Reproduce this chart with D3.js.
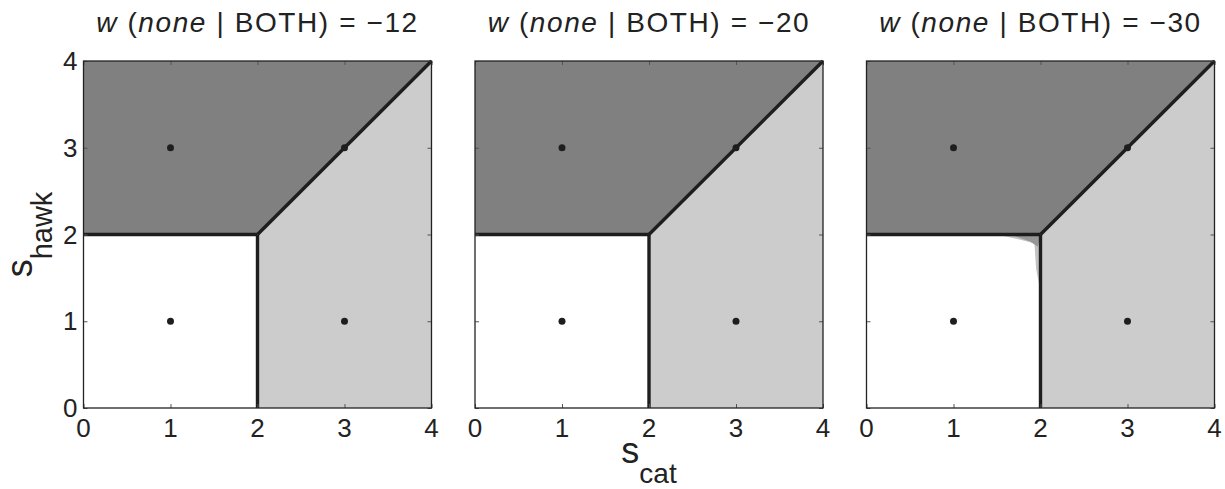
<!DOCTYPE html>
<html>
<head>
<meta charset="utf-8">
<script src="https://cdn.jsdelivr.net/npm/d3@7"></script>
<style>
  body { margin: 0; background: #fff; }
  text { font-family: "Liberation Sans", Arial, Helvetica, sans-serif; fill: #222; }
</style>
</head>
<body>
<div id="chart"></div>
<script>
// panel values (title weights)
const wValues = [-12, -20, -30];
const xTicks = [0, 1, 2, 3, 4];
const yTicks = [0, 1, 2, 3, 4];
const dotPoints = [[1, 1], [1, 3], [3, 1], [3, 3]];
// decision regions in (s_cat, s_hawk) space
const regionHawk = [[0, 2], [2, 2], [4, 4], [0, 4]];
const regionCat = [[2, 0], [4, 0], [4, 4], [2, 2]];
const boundaries = [
    [[0, 2], [2, 2]],
    [[2, 0], [2, 2]],
    [[2, 2], [4, 4]]
];
// small mixed zone near the corner, only in the last panel
const blurOuter = [null, null, [[1.5, 2], [2, 2], [2, 1.35], [1.95, 1.6], [1.93, 1.9], [1.72, 1.95]]];
const blurInner = [null, null, [[1.65, 2], [2, 2], [1.97, 1.86], [1.88, 1.92]]];

const width = 1225, height = 489;
const panelLefts = [83.5, 475, 866.5],
    panelW = 348,
    panelTop = 61,
    panelH = 347;

const svg = d3.select("#chart")
    .append("svg")
    .attr("width", width)
    .attr("height", height);

wValues.forEach((w, i) => {
    const g = svg.append("g")
        .attr("transform", `translate(${panelLefts[i]},${panelTop})`);

    const x = d3.scaleLinear().domain([0, 4]).range([0, panelW]);
    const y = d3.scaleLinear().domain([0, 4]).range([panelH, 0]);
    const line = d3.line().x(d => x(d[0])).y(d => y(d[1]));

    g.append("rect")
        .attr("width", panelW)
        .attr("height", panelH)
        .attr("fill", "#fff");

    g.append("path")
        .attr("d", line(regionHawk) + "Z")
        .attr("fill", "#808080");
    g.append("path")
        .attr("d", line(regionCat) + "Z")
        .attr("fill", "#cccccc");

    if (blurOuter[i]) {
        g.append("path")
            .attr("d", line(blurOuter[i]) + "Z")
            .attr("fill", "#c2c2c2");
        g.append("path")
            .attr("d", line(blurInner[i]) + "Z")
            .attr("fill", "#969696");
    }

    boundaries.forEach(b => {
        g.append("path")
            .attr("d", line(b))
            .attr("fill", "none")
            .attr("stroke", "#1e1e1e")
            .attr("stroke-width", 3.4);
    });

    g.selectAll("circle")
        .data(dotPoints)
        .join("circle")
        .attr("cx", d => x(d[0]))
        .attr("cy", d => y(d[1]))
        .attr("r", 3.5)
        .attr("fill", "#1e1e1e");

    // axes box with inward ticks (labels drawn separately)
    const tickLen = 4;
    g.append("g")
        .attr("transform", `translate(0,${panelH})`)
        .call(d3.axisBottom(x).tickValues(xTicks).tickSize(-tickLen).tickFormat(""))
        .call(a => a.select(".domain").remove());
    g.append("g")
        .call(d3.axisTop(x).tickValues(xTicks).tickSize(-tickLen).tickFormat(""))
        .call(a => a.select(".domain").remove());
    g.append("g")
        .call(d3.axisLeft(y).tickValues(yTicks).tickSize(-tickLen).tickFormat(""))
        .call(a => a.select(".domain").remove());
    g.append("g")
        .attr("transform", `translate(${panelW},0)`)
        .call(d3.axisRight(y).tickValues(yTicks).tickSize(-tickLen).tickFormat(""))
        .call(a => a.select(".domain").remove());
    g.selectAll(".tick line").attr("stroke", "#555");

    g.append("rect")
        .attr("width", panelW)
        .attr("height", panelH)
        .attr("fill", "none")
        .attr("stroke", "#222")
        .attr("stroke-width", 1.3);

    // x tick labels
    g.selectAll(".xlab")
        .data(xTicks)
        .join("text")
        .attr("class", "xlab")
        .attr("x", d => x(d))
        .attr("y", panelH + 29)
        .attr("text-anchor", "middle")
        .attr("font-size", 26)
        .text(d => d);

    // y tick labels only on the first panel
    if (i === 0) {
        g.selectAll(".ylab")
            .data(yTicks)
            .join("text")
            .attr("class", "ylab")
            .attr("x", -6)
            .attr("y", d => y(d) + 9)
            .attr("text-anchor", "end")
            .attr("font-size", 26)
            .text(d => d);
    }

    // title
    const t = g.append("text")
        .attr("x", panelW / 2)
        .attr("y", -29)
        .attr("text-anchor", "middle")
        .attr("font-size", 28)
        .attr("letter-spacing", 1.6);
    t.append("tspan").attr("font-style", "italic").text("w");
    t.append("tspan").text(" (");
    t.append("tspan").attr("font-style", "italic").text("none");
    t.append("tspan").text(" | BOTH) = " + String(w).replace("-", "\u2212"));
});

// x axis label under the middle panel
const xl = svg.append("text")
    .attr("x", panelLefts[1] + panelW / 2)
    .attr("y", 463)
    .attr("text-anchor", "middle");
xl.append("tspan").attr("font-size", 36).text("s");
xl.append("tspan").attr("font-size", 28).attr("dy", 20).text("cat");

// y axis label
const yl = svg.append("text")
    .attr("transform", `translate(32,${panelTop + panelH / 2}) rotate(-90)`)
    .attr("text-anchor", "middle");
yl.append("tspan").attr("font-size", 36).text("s");
yl.append("tspan").attr("font-size", 29).attr("dy", 20).text("hawk");
</script>
</body>
</html>
